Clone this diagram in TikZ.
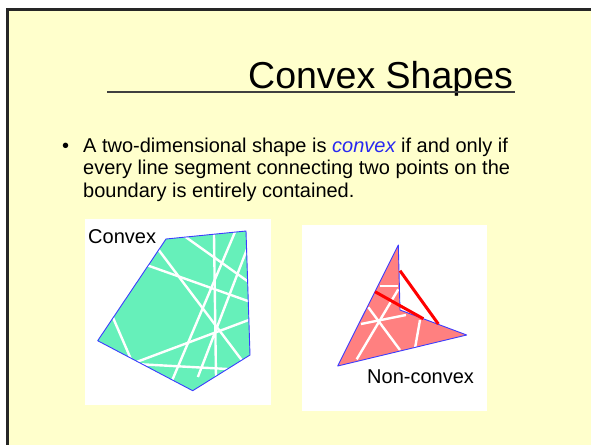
\documentclass[tikz,border=0pt]{standalone}
\usepackage{fontspec}
\setmainfont{Liberation Sans}
\usepackage{tikz}
\usetikzlibrary{positioning}

\definecolor{slideyellow}{RGB}{255,255,204}
\definecolor{mint}{RGB}{102,240,186}
\definecolor{salmon}{RGB}{255,128,128}
\definecolor{edgeblue}{RGB}{60,60,255}
\definecolor{termblue}{RGB}{40,40,240}

\begin{document}
\begin{tikzpicture}[x=1pt, y=-1pt,
    chord/.style={white, line width=2.4pt, shorten <=-4pt, shorten >=-4pt},
    badchord/.style={red, line width=3pt},
    outline/.style={draw=edgeblue, line width=0.9pt, line join=round},
    body/.style={inner sep=0pt, anchor=base west, font=\fontsize{20}{24}\selectfont}]
    \useasboundingbox (0,0) rectangle (591,444);
    \fill[white] (0,0) rectangle (591,444);
    \draw[line width=3pt, draw=black!85, fill=slideyellow] (7.5,9.5) rectangle (610,470);

    \node[inner sep=0pt, anchor=base west, font=\fontsize{37.5}{44}\selectfont] (title) at (248,88) {Convex Shapes};
    \coordinate (ruleL) at (107,92);
    \coordinate (ruleR) at (515,92);
    \draw[line width=1.2pt, black!75] (ruleL) -- (ruleR);

    \node[body] (dot) at (62,152) {\textbullet};
    \node[body] (line1) at (83,152) {A two-dimensional shape is \textcolor{termblue}{\itshape convex} if and only if};
    \node[body] (line2) at (83,174.5) {every line segment connecting two points on the};
    \node[body] (line3) at (83,197) {boundary is entirely contained.};

    \fill[white] (85,219) rectangle (271,405);
    \fill[mint] (166,239) -- (246,231) -- (250,355) -- (192.7,390.7) -- (97.7,340.7) -- cycle;
    \begin{scope}
        \clip (166,239) -- (246,231) -- (250,355) -- (192.7,390.7) -- (97.7,340.7) -- cycle;
        \foreach \xa/\ya/\xb/\yb in {186/237.3/247.3/281, 149.3/266/248.7/301.3, 160/251.7/241.7/360,
            214/235/216/377.3, 235/232/172.3/380, 246/251.7/199.3/373.3, 113.3/318.3/131/359.3,
            137.3/361.7/248.7/320, 136/364/227.7/369}
            \draw[chord] (\xa,\ya) -- (\xb,\yb);
    \end{scope}
    \draw[outline] (166,239) -- (246,231) -- (250,355) -- (192.7,390.7) -- (97.7,340.7) -- cycle;
    \node[body] (convexlabel) at (88,243) {Convex};

    \fill[white] (302,225) rectangle (487,411);
    \fill[salmon] (398.3,245) -- (400,310) -- (466.7,335) -- (337.7,366) -- cycle;
    \begin{scope}
        \clip (398.3,245) -- (400,310) -- (466.7,335) -- (337.7,366) -- cycle;
        \foreach \xa/\ya/\xb/\yb in {361/324/406/315, 380/285.7/398.3/285.7, 368.3/307.3/400/350,
            398.3/289.3/356.7/359.3, 420/320/415/348.3}
            \draw[chord, shorten <=0pt, shorten >=0pt] (\xa,\ya) -- (\xb,\yb);
    \end{scope}
    \draw[outline] (398.3,245) -- (400,310) -- (466.7,335) -- (337.7,366) -- cycle;
    \draw[badchord] (400,270.7) -- (438.3,324);
    \draw[badchord] (375,291.7) -- (423.3,318.7);
    \node[body] (nclabel) at (367,383) {Non-convex};
\end{tikzpicture}
\end{document}
